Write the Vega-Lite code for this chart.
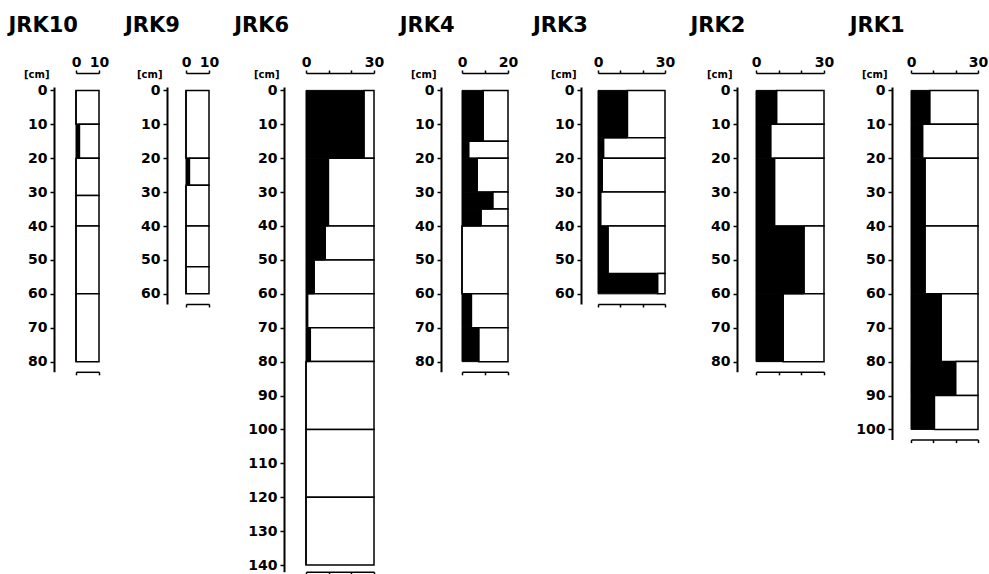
{
  "$schema": "https://vega.github.io/schema/vega-lite/v6.json",
  "background": "white",
  "padding": {"left": 8, "top": 14, "right": 0, "bottom": 0},
  "spacing": 15,
  "config": {
    "view": {"stroke": null},
    "font": "DejaVu Sans",
    "axis": {"grid": false, "domainColor": "black", "tickColor": "black", "labelColor": "black", "titleColor": "black", "labelFont": "DejaVu Sans", "labelFontWeight": "bold", "labelFontSize": 14, "tickWidth": 1.5, "domainWidth": 1.5, "labelOverlap": false, "labelFlush": false},
    "title": {"font": "DejaVu Sans", "fontSize": 21, "fontWeight": "bold", "color": "black", "anchor": "start", "frame": "group", "offset": 19.5}
  },
  "data": {"values": [
    {"core": "JRK10", "top": 0, "bottom": 10, "value": 0},
    {"core": "JRK10", "top": 10, "bottom": 20, "value": 1.5},
    {"core": "JRK10", "top": 20, "bottom": 31, "value": 0},
    {"core": "JRK10", "top": 31, "bottom": 40, "value": 0},
    {"core": "JRK10", "top": 40, "bottom": 60, "value": 0},
    {"core": "JRK10", "top": 60, "bottom": 80, "value": 0},
    {"core": "JRK9", "top": 0, "bottom": 20, "value": 0},
    {"core": "JRK9", "top": 20, "bottom": 28, "value": 1.5},
    {"core": "JRK9", "top": 28, "bottom": 40, "value": 0},
    {"core": "JRK9", "top": 40, "bottom": 52, "value": 0},
    {"core": "JRK9", "top": 52, "bottom": 60, "value": 0},
    {"core": "JRK6", "top": 0, "bottom": 20, "value": 25.6},
    {"core": "JRK6", "top": 20, "bottom": 40, "value": 9.9},
    {"core": "JRK6", "top": 40, "bottom": 50, "value": 8.5},
    {"core": "JRK6", "top": 50, "bottom": 60, "value": 3.6},
    {"core": "JRK6", "top": 60, "bottom": 70, "value": 0.7},
    {"core": "JRK6", "top": 70, "bottom": 80, "value": 1.9},
    {"core": "JRK6", "top": 80, "bottom": 100, "value": 0},
    {"core": "JRK6", "top": 100, "bottom": 120, "value": 0},
    {"core": "JRK6", "top": 120, "bottom": 140, "value": 0},
    {"core": "JRK4", "top": 0, "bottom": 15, "value": 9.2},
    {"core": "JRK4", "top": 15, "bottom": 20, "value": 2.9},
    {"core": "JRK4", "top": 20, "bottom": 30, "value": 6.6},
    {"core": "JRK4", "top": 30, "bottom": 35, "value": 13.4},
    {"core": "JRK4", "top": 35, "bottom": 40, "value": 8.3},
    {"core": "JRK4", "top": 40, "bottom": 60, "value": 0},
    {"core": "JRK4", "top": 60, "bottom": 70, "value": 4.1},
    {"core": "JRK4", "top": 70, "bottom": 80, "value": 7.3},
    {"core": "JRK3", "top": 0, "bottom": 14, "value": 13.2},
    {"core": "JRK3", "top": 14, "bottom": 20, "value": 2.5},
    {"core": "JRK3", "top": 20, "bottom": 30, "value": 1.9},
    {"core": "JRK3", "top": 30, "bottom": 40, "value": 1.2},
    {"core": "JRK3", "top": 40, "bottom": 54, "value": 4.5},
    {"core": "JRK3", "top": 54, "bottom": 60, "value": 26.7},
    {"core": "JRK2", "top": 0, "bottom": 10, "value": 9.1},
    {"core": "JRK2", "top": 10, "bottom": 20, "value": 6.5},
    {"core": "JRK2", "top": 20, "bottom": 40, "value": 8.2},
    {"core": "JRK2", "top": 40, "bottom": 60, "value": 21.2},
    {"core": "JRK2", "top": 60, "bottom": 80, "value": 12},
    {"core": "JRK1", "top": 0, "bottom": 10, "value": 8.4},
    {"core": "JRK1", "top": 10, "bottom": 20, "value": 5.2},
    {"core": "JRK1", "top": 20, "bottom": 40, "value": 6.3},
    {"core": "JRK1", "top": 40, "bottom": 60, "value": 6.3},
    {"core": "JRK1", "top": 60, "bottom": 80, "value": 13.5},
    {"core": "JRK1", "top": 80, "bottom": 90, "value": 20},
    {"core": "JRK1", "top": 90, "bottom": 100, "value": 10.5}
  ]},
  "hconcat": [
    {
      "title": {"text": "JRK10", "dx": -67.5},
      "width": 23, "height": 284.8,
      "transform": [{"filter": "datum.core === 'JRK10'"}],
      "encoding": {
        "y": {"field": "top", "type": "quantitative", "scale": {"domain": [-1, 83], "nice": false, "zero": false, "reverse": true},
              "axis": {"values": [0,10,20,30,40,50,60,70,80], "offset": 22, "tickSize": 4, "labelPadding": 3, "domainWidth": 2, "title": "[cm]", "titleAngle": 0, "titleX": -5, "titleY": -13, "titleAlign": "right", "titleBaseline": "middle", "titleFontSize": 10, "titleFontWeight": "bold"}},
        "y2": {"field": "bottom"}
      },
      "layer": [
        {"mark": {"type": "rect", "fill": "white", "stroke": "black", "strokeWidth": 1.5},
         "encoding": {"x": {"field": "value", "type": "quantitative", "scale": {"domain": [0, 10], "nice": false},
                            "axis": {"orient": "top", "offset": 14, "values": [0, 10], "tickSize": 3, "labelPadding": 1, "title": null}},
                      "x2": {"value": "width"}}},
        {"mark": {"type": "rect", "fill": "black", "stroke": "black", "strokeWidth": 1},
         "encoding": {"x": {"field": "value", "type": "quantitative", "scale": {"domain": [0, 10], "nice": false},
                            "axis": {"orient": "bottom", "offset": 0, "values": [0, 10], "tickSize": 3, "labels": false, "title": null}},
                      "x2": {"value": 0}}}
      ],
      "resolve": {"axis": {"x": "independent"}}
    },
    {
      "title": {"text": "JRK9", "dx": -61.1},
      "width": 23, "height": 217,
      "transform": [{"filter": "datum.core === 'JRK9'"}],
      "encoding": {
        "y": {"field": "top", "type": "quantitative", "scale": {"domain": [-1, 63], "nice": false, "zero": false, "reverse": true},
              "axis": {"values": [0,10,20,30,40,50,60], "offset": 19, "tickSize": 4, "labelPadding": 3, "domainWidth": 2, "title": "[cm]", "titleAngle": 0, "titleX": -5, "titleY": -13, "titleAlign": "right", "titleBaseline": "middle", "titleFontSize": 10, "titleFontWeight": "bold"}},
        "y2": {"field": "bottom"}
      },
      "layer": [
        {"mark": {"type": "rect", "fill": "white", "stroke": "black", "strokeWidth": 1.5},
         "encoding": {"x": {"field": "value", "type": "quantitative", "scale": {"domain": [0, 10], "nice": false},
                            "axis": {"orient": "top", "offset": 14, "values": [0, 10], "tickSize": 3, "labelPadding": 1, "title": null}},
                      "x2": {"value": "width"}}},
        {"mark": {"type": "rect", "fill": "black", "stroke": "black", "strokeWidth": 1},
         "encoding": {"x": {"field": "value", "type": "quantitative", "scale": {"domain": [0, 10], "nice": false},
                            "axis": {"orient": "bottom", "offset": 0, "values": [0, 10], "tickSize": 3, "labels": false, "title": null}},
                      "x2": {"value": 0}}}
      ],
      "resolve": {"axis": {"x": "independent"}}
    },
    {
      "title": {"text": "JRK6", "dx": -71.7},
      "width": 68, "height": 484.8,
      "transform": [{"filter": "datum.core === 'JRK6'"}],
      "encoding": {
        "y": {"field": "top", "type": "quantitative", "scale": {"domain": [-1, 142], "nice": false, "zero": false, "reverse": true},
              "axis": {"values": [0,10,20,30,40,50,60,70,80,90,100,110,120,130,140], "offset": 22, "tickSize": 4, "labelPadding": 3, "domainWidth": 2, "title": "[cm]", "titleAngle": 0, "titleX": -5, "titleY": -13, "titleAlign": "right", "titleBaseline": "middle", "titleFontSize": 10, "titleFontWeight": "bold"}},
        "y2": {"field": "bottom"}
      },
      "layer": [
        {"mark": {"type": "rect", "fill": "white", "stroke": "black", "strokeWidth": 1.5},
         "encoding": {"x": {"field": "value", "type": "quantitative", "scale": {"domain": [0, 30], "nice": false},
                            "axis": {"orient": "top", "offset": 14, "values": [0, 10, 20, 30], "labelExpr": "datum.value == 0 || datum.value == 30 ? datum.label : ''", "tickSize": 3, "labelPadding": 1, "title": null}},
                      "x2": {"value": "width"}}},
        {"mark": {"type": "rect", "fill": "black", "stroke": "black", "strokeWidth": 1},
         "encoding": {"x": {"field": "value", "type": "quantitative", "scale": {"domain": [0, 30], "nice": false},
                            "axis": {"orient": "bottom", "offset": 0, "values": [0, 10, 20, 30], "tickSize": 3, "labels": false, "title": null}},
                      "x2": {"value": 0}}}
      ],
      "resolve": {"axis": {"x": "independent"}}
    },
    {
      "title": {"text": "JRK4", "dx": -62.3},
      "width": 46, "height": 284.8,
      "transform": [{"filter": "datum.core === 'JRK4'"}],
      "encoding": {
        "y": {"field": "top", "type": "quantitative", "scale": {"domain": [-1, 83], "nice": false, "zero": false, "reverse": true},
              "axis": {"values": [0,10,20,30,40,50,60,70,80], "offset": 21, "tickSize": 4, "labelPadding": 3, "domainWidth": 2, "title": "[cm]", "titleAngle": 0, "titleX": -5, "titleY": -13, "titleAlign": "right", "titleBaseline": "middle", "titleFontSize": 10, "titleFontWeight": "bold"}},
        "y2": {"field": "bottom"}
      },
      "layer": [
        {"mark": {"type": "rect", "fill": "white", "stroke": "black", "strokeWidth": 1.5},
         "encoding": {"x": {"field": "value", "type": "quantitative", "scale": {"domain": [0, 20], "nice": false},
                            "axis": {"orient": "top", "offset": 14, "values": [0, 10, 20], "labelExpr": "datum.value == 0 || datum.value == 20 ? datum.label : ''", "tickSize": 3, "labelPadding": 1, "title": null}},
                      "x2": {"value": "width"}}},
        {"mark": {"type": "rect", "fill": "black", "stroke": "black", "strokeWidth": 1},
         "encoding": {"x": {"field": "value", "type": "quantitative", "scale": {"domain": [0, 20], "nice": false},
                            "axis": {"orient": "bottom", "offset": 0, "values": [0, 10, 20], "tickSize": 3, "labels": false, "title": null}},
                      "x2": {"value": 0}}}
      ],
      "resolve": {"axis": {"x": "independent"}}
    },
    {
      "title": {"text": "JRK3", "dx": -65.0},
      "width": 67, "height": 217,
      "transform": [{"filter": "datum.core === 'JRK3'"}],
      "encoding": {
        "y": {"field": "top", "type": "quantitative", "scale": {"domain": [-1, 63], "nice": false, "zero": false, "reverse": true},
              "axis": {"values": [0,10,20,30,40,50,60], "offset": 17, "tickSize": 4, "labelPadding": 3, "domainWidth": 2, "title": "[cm]", "titleAngle": 0, "titleX": -5, "titleY": -13, "titleAlign": "right", "titleBaseline": "middle", "titleFontSize": 10, "titleFontWeight": "bold"}},
        "y2": {"field": "bottom"}
      },
      "layer": [
        {"mark": {"type": "rect", "fill": "white", "stroke": "black", "strokeWidth": 1.5},
         "encoding": {"x": {"field": "value", "type": "quantitative", "scale": {"domain": [0, 30], "nice": false},
                            "axis": {"orient": "top", "offset": 14, "values": [0, 10, 20, 30], "labelExpr": "datum.value == 0 || datum.value == 30 ? datum.label : ''", "tickSize": 3, "labelPadding": 1, "title": null}},
                      "x2": {"value": "width"}}},
        {"mark": {"type": "rect", "fill": "black", "stroke": "black", "strokeWidth": 1},
         "encoding": {"x": {"field": "value", "type": "quantitative", "scale": {"domain": [0, 30], "nice": false},
                            "axis": {"orient": "bottom", "offset": 0, "values": [0, 10, 20, 30], "tickSize": 3, "labels": false, "title": null}},
                      "x2": {"value": 0}}}
      ],
      "resolve": {"axis": {"x": "independent"}}
    },
    {
      "title": {"text": "JRK2", "dx": -65.6},
      "width": 68, "height": 284.8,
      "transform": [{"filter": "datum.core === 'JRK2'"}],
      "encoding": {
        "y": {"field": "top", "type": "quantitative", "scale": {"domain": [-1, 83], "nice": false, "zero": false, "reverse": true},
              "axis": {"values": [0,10,20,30,40,50,60,70,80], "offset": 19, "tickSize": 4, "labelPadding": 3, "domainWidth": 2, "title": "[cm]", "titleAngle": 0, "titleX": -5, "titleY": -13, "titleAlign": "right", "titleBaseline": "middle", "titleFontSize": 10, "titleFontWeight": "bold"}},
        "y2": {"field": "bottom"}
      },
      "layer": [
        {"mark": {"type": "rect", "fill": "white", "stroke": "black", "strokeWidth": 1.5},
         "encoding": {"x": {"field": "value", "type": "quantitative", "scale": {"domain": [0, 30], "nice": false},
                            "axis": {"orient": "top", "offset": 14, "values": [0, 10, 20, 30], "labelExpr": "datum.value == 0 || datum.value == 30 ? datum.label : ''", "tickSize": 3, "labelPadding": 1, "title": null}},
                      "x2": {"value": "width"}}},
        {"mark": {"type": "rect", "fill": "black", "stroke": "black", "strokeWidth": 1},
         "encoding": {"x": {"field": "value", "type": "quantitative", "scale": {"domain": [0, 30], "nice": false},
                            "axis": {"orient": "bottom", "offset": 0, "values": [0, 10, 20, 30], "tickSize": 3, "labels": false, "title": null}},
                      "x2": {"value": 0}}}
      ],
      "resolve": {"axis": {"x": "independent"}}
    },
    {
      "title": {"text": "JRK1", "dx": -61.3},
      "width": 67, "height": 352.6,
      "transform": [{"filter": "datum.core === 'JRK1'"}],
      "encoding": {
        "y": {"field": "top", "type": "quantitative", "scale": {"domain": [-1, 103], "nice": false, "zero": false, "reverse": true},
              "axis": {"values": [0,10,20,30,40,50,60,70,80,90,100], "offset": 19, "tickSize": 4, "labelPadding": 3, "domainWidth": 2, "title": "[cm]", "titleAngle": 0, "titleX": -5, "titleY": -13, "titleAlign": "right", "titleBaseline": "middle", "titleFontSize": 10, "titleFontWeight": "bold"}},
        "y2": {"field": "bottom"}
      },
      "layer": [
        {"mark": {"type": "rect", "fill": "white", "stroke": "black", "strokeWidth": 1.5},
         "encoding": {"x": {"field": "value", "type": "quantitative", "scale": {"domain": [0, 30], "nice": false},
                            "axis": {"orient": "top", "offset": 14, "values": [0, 10, 20, 30], "labelExpr": "datum.value == 0 || datum.value == 30 ? datum.label : ''", "tickSize": 3, "labelPadding": 1, "title": null}},
                      "x2": {"value": "width"}}},
        {"mark": {"type": "rect", "fill": "black", "stroke": "black", "strokeWidth": 1},
         "encoding": {"x": {"field": "value", "type": "quantitative", "scale": {"domain": [0, 30], "nice": false},
                            "axis": {"orient": "bottom", "offset": 0, "values": [0, 10, 20, 30], "tickSize": 3, "labels": false, "title": null}},
                      "x2": {"value": 0}}}
      ],
      "resolve": {"axis": {"x": "independent"}}
    }
  ]
}
